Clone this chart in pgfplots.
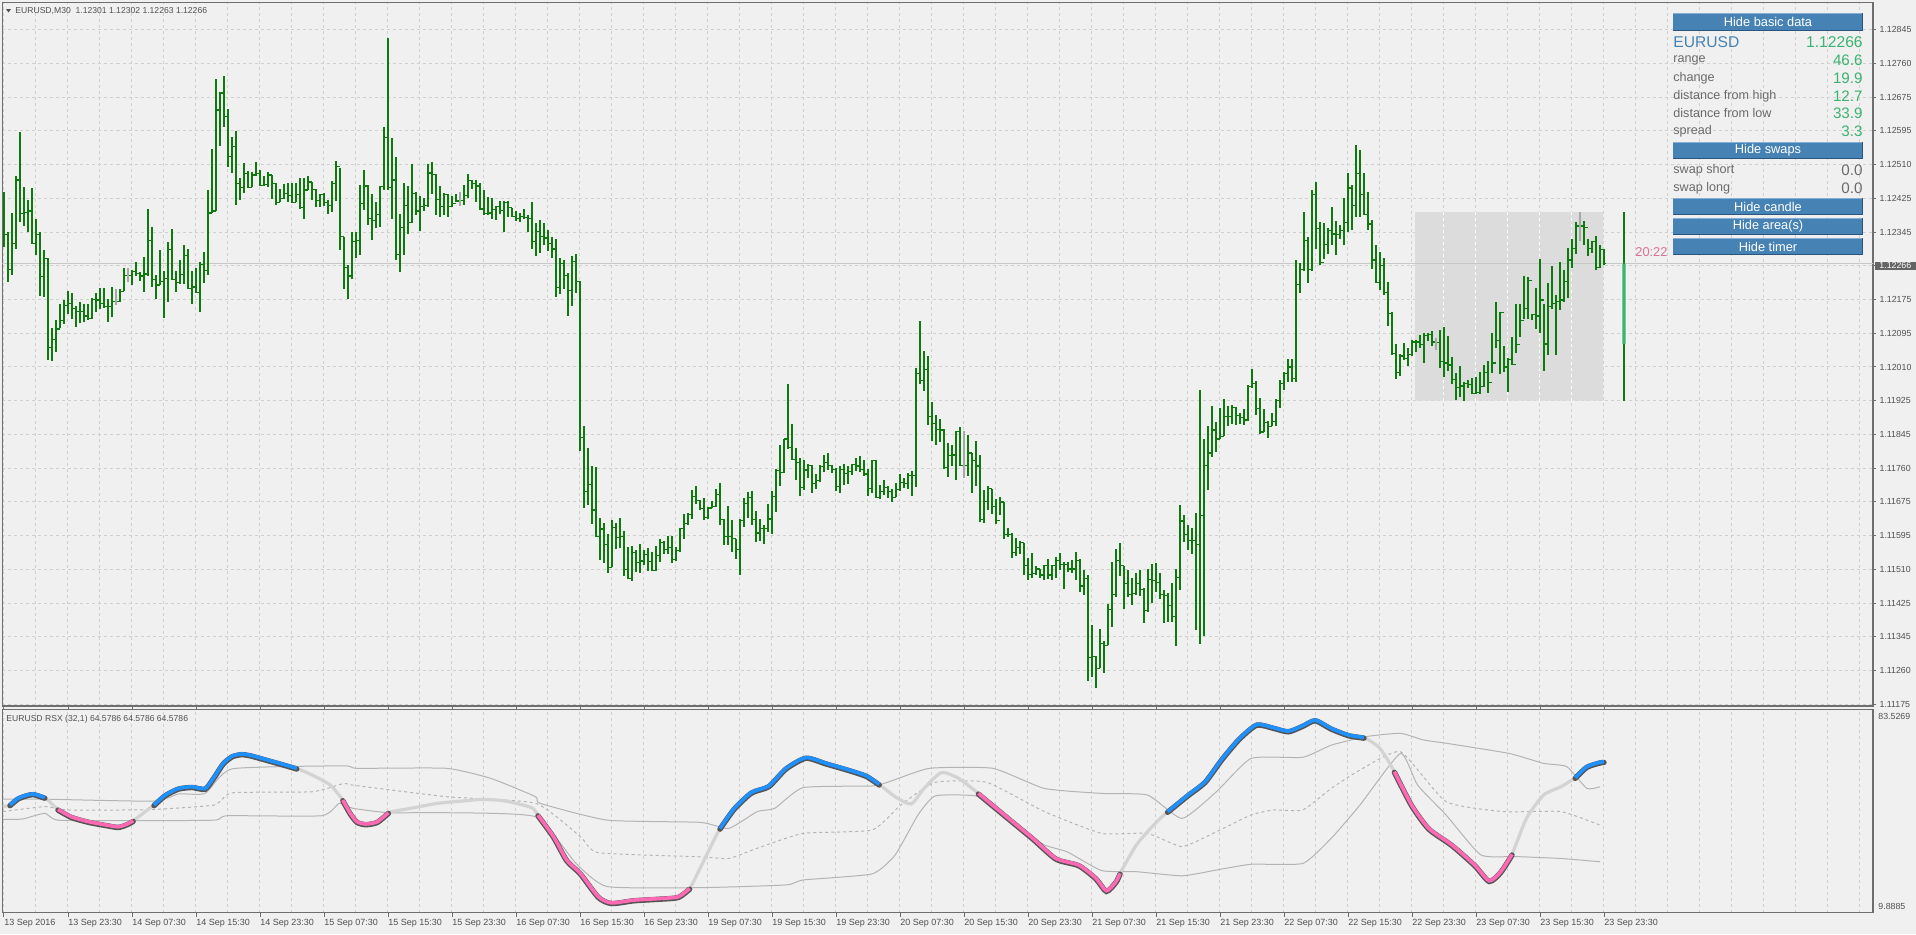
\documentclass[border=0pt]{standalone}
\usepackage{pgfplots}
\usepackage{pgfplotstable}
\pgfplotsset{compat=1.18}
\usepackage{fontspec}
\setmainfont{Liberation Sans}
\definecolor{bg}{HTML}{F0F0F0}
\definecolor{gridc}{HTML}{D0D0D0}
\definecolor{frame}{HTML}{6E6E6E}
\definecolor{barc}{HTML}{0E7A0E}
\definecolor{dojic}{HTML}{A8A8A8}
\definecolor{candle}{HTML}{3CB371}
\definecolor{area}{HTML}{DCDCDC}
\definecolor{pline}{HTML}{C8C8C8}
\definecolor{txt}{HTML}{505050}
\definecolor{lbl}{HTML}{6A6A6A}
\definecolor{val}{HTML}{3CB371}
\definecolor{btn}{HTML}{4682B4}
\definecolor{btnhi}{HTML}{86AED6}
\definecolor{btnlo}{HTML}{2A557F}
\definecolor{rsxblue}{HTML}{1E90FF}
\definecolor{rsxpink}{HTML}{FF69B4}
\definecolor{rsxgrey}{HTML}{D3D3D3}
\definecolor{rsxdark}{HTML}{555555}
\definecolor{band}{HTML}{B4B4B4}
\definecolor{timer}{HTML}{DB7093}
\definecolor{pbox}{HTML}{646464}
\newcommand\fs[1]{\fontsize{#1}{#1}\selectfont}

\pgfplotstableread{
i h l c
0 1.12444 1.12308 1.12337
1 1.12343 1.12221 1.12251
2 1.12391 1.12237 1.12316
3 1.12482 1.12303 1.12473
4 1.12592 1.12369 1.12389
5 1.12455 1.12359 1.12393
6 1.12423 1.12343 1.12396
7 1.12453 1.12315 1.12316
8 1.12377 1.12286 1.12337
9 1.12343 1.12186 1.12233
10 1.12300 1.12183 1.12278
11 1.12280 1.12028 1.12058
12 1.12106 1.12026 1.12079
13 1.12126 1.12047 1.12104
14 1.12165 1.12106 1.12125
15 1.12176 1.12117 1.12162
16 1.12197 1.12141 1.12168
17 1.12194 1.12128 1.12154
18 1.12160 1.12110 1.12147
19 1.12170 1.12120 1.12147
20 1.12165 1.12122 1.12136
21 1.12165 1.12128 1.12130
22 1.12181 1.12130 1.12178
23 1.12194 1.12146 1.12176
24 1.12205 1.12154 1.12168
25 1.12205 1.12156 1.12160
26 1.12178 1.12122 1.12160
27 1.12208 1.12133 1.12172
28 1.12203 1.12163 1.12172
29 1.12203 1.12170 1.12197
30 1.12254 1.12197 1.12237
31 1.12256 1.12221 1.12237
32 1.12251 1.12213 1.12246
33 1.12269 1.12235 1.12242
34 1.12246 1.12224 1.12235
35 1.12282 1.12195 1.12240
36 1.12400 1.12235 1.12323
37 1.12356 1.12208 1.12226
38 1.12237 1.12179 1.12213
39 1.12300 1.12213 1.12222
40 1.12248 1.12131 1.12229
41 1.12319 1.12172 1.12300
42 1.12351 1.12226 1.12226
43 1.12248 1.12195 1.12220
44 1.12275 1.12216 1.12238
45 1.12311 1.12216 1.12286
46 1.12303 1.12203 1.12205
47 1.12248 1.12165 1.12208
48 1.12256 1.12192 1.12195
49 1.12269 1.12147 1.12264
50 1.12294 1.12219 1.12248
51 1.12448 1.12237 1.12391
52 1.12550 1.12391 1.12396
53 1.12722 1.12396 1.12646
54 1.12691 1.12557 1.12688
55 1.12731 1.12605 1.12630
56 1.12648 1.12505 1.12530
57 1.12580 1.12489 1.12555
58 1.12594 1.12410 1.12464
59 1.12478 1.12423 1.12455
60 1.12514 1.12441 1.12489
61 1.12495 1.12452 1.12455
62 1.12493 1.12455 1.12485
63 1.12517 1.12482 1.12489
64 1.12498 1.12457 1.12460
65 1.12482 1.12457 1.12462
66 1.12493 1.12455 1.12485
67 1.12485 1.12426 1.12464
68 1.12465 1.12412 1.12418
69 1.12450 1.12418 1.12426
70 1.12462 1.12425 1.12439
71 1.12466 1.12418 1.12434
72 1.12466 1.12415 1.12418
73 1.12466 1.12418 1.12436
74 1.12477 1.12401 1.12404
75 1.12477 1.12377 1.12448
76 1.12482 1.12448 1.12468
77 1.12469 1.12423 1.12450
78 1.12450 1.12407 1.12423
79 1.12439 1.12407 1.12437
80 1.12441 1.12409 1.12418
81 1.12423 1.12389 1.12409
82 1.12471 1.12394 1.12464
83 1.12521 1.12422 1.12506
84 1.12503 1.12300 1.12332
85 1.12332 1.12203 1.12257
86 1.12262 1.12179 1.12235
87 1.12343 1.12229 1.12321
88 1.12345 1.12280 1.12324
89 1.12460 1.12287 1.12415
90 1.12497 1.12399 1.12458
91 1.12460 1.12361 1.12378
92 1.12439 1.12324 1.12372
93 1.12418 1.12355 1.12387
94 1.12457 1.12356 1.12457
95 1.12603 1.12447 1.12577
96 1.12825 1.12448 1.12455
97 1.12576 1.12377 1.12473
98 1.12530 1.12276 1.12289
99 1.12389 1.12244 1.12355
100 1.12465 1.12286 1.12409
101 1.12457 1.12340 1.12367
102 1.12512 1.12367 1.12439
103 1.12444 1.12385 1.12396
104 1.12434 1.12346 1.12407
105 1.12428 1.12396 1.12409
106 1.12512 1.12407 1.12490
107 1.12517 1.12439 1.12487
108 1.12487 1.12385 1.12425
109 1.12457 1.12380 1.12407
110 1.12441 1.12385 1.12437
111 1.12437 1.12382 1.12407
112 1.12434 1.12407 1.12415
113 1.12439 1.12418 1.12421
114 1.12444 1.12409 1.12423
115 1.12460 1.12412 1.12434
116 1.12487 1.12428 1.12471
117 1.12473 1.12450 1.12464
118 1.12473 1.12418 1.12458
119 1.12466 1.12399 1.12401
120 1.12447 1.12385 1.12389
121 1.12431 1.12385 1.12391
122 1.12428 1.12377 1.12399
123 1.12409 1.12375 1.12407
124 1.12420 1.12389 1.12398
125 1.12420 1.12345 1.12418
126 1.12420 1.12380 1.12404
127 1.12404 1.12382 1.12383
128 1.12396 1.12371 1.12377
129 1.12392 1.12369 1.12382
130 1.12400 1.12375 1.12380
131 1.12385 1.12343 1.12377
132 1.12418 1.12303 1.12321
133 1.12367 1.12284 1.12345
134 1.12375 1.12292 1.12332
135 1.12366 1.12313 1.12329
136 1.12350 1.12298 1.12316
137 1.12332 1.12280 1.12302
138 1.12327 1.12183 1.12206
139 1.12280 1.12190 1.12267
140 1.12275 1.12203 1.12237
141 1.12242 1.12136 1.12200
142 1.12284 1.12162 1.12271
143 1.12289 1.12192 1.12221
144 1.12222 1.11803 1.11835
145 1.11864 1.11661 1.11701
146 1.11809 1.11669 1.11720
147 1.11766 1.11621 1.11656
148 1.11763 1.11589 1.11591
149 1.11636 1.11532 1.11609
150 1.11625 1.11526 1.11571
151 1.11596 1.11500 1.11514
152 1.11631 1.11514 1.11612
153 1.11625 1.11559 1.11588
154 1.11637 1.11561 1.11591
155 1.11604 1.11493 1.11508
156 1.11564 1.11486 1.11487
157 1.11567 1.11481 1.11551
158 1.11556 1.11503 1.11527
159 1.11572 1.11500 1.11530
160 1.11556 1.11521 1.11546
161 1.11561 1.11505 1.11529
162 1.11553 1.11505 1.11507
163 1.11567 1.11505 1.11543
164 1.11585 1.11527 1.11575
165 1.11580 1.11546 1.11559
166 1.11591 1.11548 1.11564
167 1.11591 1.11525 1.11534
168 1.11564 1.11529 1.11556
169 1.11612 1.11553 1.11610
170 1.11645 1.11585 1.11623
171 1.11648 1.11618 1.11645
172 1.11706 1.11634 1.11690
173 1.11715 1.11672 1.11679
174 1.11680 1.11656 1.11659
175 1.11686 1.11631 1.11637
176 1.11664 1.11634 1.11661
177 1.11679 1.11661 1.11664
178 1.11709 1.11664 1.11695
179 1.11722 1.11618 1.11632
180 1.11634 1.11570 1.11591
181 1.11666 1.11570 1.11591
182 1.11631 1.11553 1.11585
183 1.11585 1.11534 1.11559
184 1.11634 1.11495 1.11631
185 1.11686 1.11615 1.11672
186 1.11701 1.11637 1.11688
187 1.11704 1.11620 1.11632
188 1.11653 1.11578 1.11599
189 1.11634 1.11580 1.11610
190 1.11620 1.11571 1.11610
191 1.11670 1.11602 1.11634
192 1.11704 1.11596 1.11690
193 1.11757 1.11650 1.11754
194 1.11818 1.11715 1.11749
195 1.11832 1.11747 1.11832
196 1.11969 1.11806 1.11811
197 1.11870 1.11781 1.11782
198 1.11809 1.11731 1.11774
199 1.11784 1.11691 1.11711
200 1.11781 1.11706 1.11755
201 1.11771 1.11736 1.11766
202 1.11768 1.11698 1.11722
203 1.11745 1.11709 1.11729
204 1.11768 1.11725 1.11763
205 1.11792 1.11750 1.11774
206 1.11798 1.11754 1.11766
207 1.11768 1.11747 1.11757
208 1.11760 1.11704 1.11715
209 1.11766 1.11698 1.11757
210 1.11770 1.11718 1.11747
211 1.11766 1.11720 1.11752
212 1.11770 1.11743 1.11768
213 1.11784 1.11752 1.11765
214 1.11790 1.11750 1.11757
215 1.11779 1.11741 1.11745
216 1.11757 1.11690 1.11709
217 1.11779 1.11698 1.11779
218 1.11779 1.11686 1.11688
219 1.11718 1.11683 1.11701
220 1.11731 1.11693 1.11711
221 1.11715 1.11685 1.11701
222 1.11707 1.11676 1.11688
223 1.11722 1.11688 1.11706
224 1.11745 1.11704 1.11725
225 1.11736 1.11711 1.11722
226 1.11747 1.11709 1.11741
227 1.11752 1.11690 1.11741
228 1.12008 1.11712 1.11994
229 1.12125 1.11967 1.11977
230 1.12050 1.11951 1.12004
231 1.12037 1.11867 1.11888
232 1.11924 1.11827 1.11870
233 1.11892 1.11818 1.11856
234 1.11881 1.11824 1.11854
235 1.11856 1.11760 1.11761
236 1.11822 1.11738 1.11790
237 1.11816 1.11765 1.11792
238 1.11851 1.11731 1.11851
239 1.11862 1.11766 1.11766
240 1.11851 1.11736 1.11766
241 1.11841 1.11741 1.11797
242 1.11798 1.11698 1.11779
243 1.11827 1.11715 1.11765
244 1.11792 1.11626 1.11632
245 1.11706 1.11623 1.11677
246 1.11715 1.11656 1.11709
247 1.11709 1.11647 1.11664
248 1.11683 1.11621 1.11631
249 1.11688 1.11643 1.11676
250 1.11676 1.11585 1.11596
251 1.11612 1.11589 1.11596
252 1.11599 1.11537 1.11551
253 1.11588 1.11543 1.11564
254 1.11580 1.11548 1.11575
255 1.11575 1.11495 1.11519
256 1.11537 1.11484 1.11497
257 1.11550 1.11489 1.11498
258 1.11518 1.11495 1.11510
259 1.11510 1.11489 1.11495
260 1.11521 1.11484 1.11519
261 1.11535 1.11486 1.11495
262 1.11521 1.11482 1.11519
263 1.11541 1.11489 1.11532
264 1.11550 1.11507 1.11521
265 1.11527 1.11460 1.11521
266 1.11527 1.11503 1.11510
267 1.11532 1.11500 1.11510
268 1.11553 1.11484 1.11532
269 1.11534 1.11452 1.11468
270 1.11507 1.11446 1.11486
271 1.11495 1.11232 1.11291
272 1.11371 1.11243 1.11294
273 1.11294 1.11216 1.11264
274 1.11361 1.11264 1.11326
275 1.11332 1.11253 1.11321
276 1.11423 1.11321 1.11409
277 1.11527 1.11366 1.11446
278 1.11559 1.11441 1.11532
279 1.11575 1.11492 1.11518
280 1.11518 1.11411 1.11475
281 1.11508 1.11441 1.11446
282 1.11489 1.11422 1.11450
283 1.11500 1.11446 1.11475
284 1.11508 1.11443 1.11459
285 1.11462 1.11377 1.11407
286 1.11510 1.11404 1.11484
287 1.11523 1.11425 1.11481
288 1.11525 1.11452 1.11477
289 1.11500 1.11436 1.11446
290 1.11459 1.11377 1.11444
291 1.11450 1.11379 1.11420
292 1.11475 1.11379 1.11393
293 1.11510 1.11320 1.11489
294 1.11669 1.11459 1.11629
295 1.11643 1.11577 1.11596
296 1.11618 1.11557 1.11580
297 1.11612 1.11548 1.11580
298 1.11648 1.11358 1.11570
299 1.11953 1.11325 1.11643
300 1.11832 1.11344 1.11766
301 1.11864 1.11706 1.11797
302 1.11913 1.11787 1.11854
303 1.11873 1.11800 1.11832
304 1.11908 1.11832 1.11838
305 1.11931 1.11840 1.11888
306 1.11913 1.11864 1.11888
307 1.11916 1.11870 1.11910
308 1.11910 1.11867 1.11889
309 1.11895 1.11868 1.11886
310 1.11905 1.11867 1.11879
311 1.11965 1.11876 1.11961
312 1.12004 1.11959 1.11969
313 1.11975 1.11892 1.11908
314 1.11934 1.11843 1.11849
315 1.11905 1.11849 1.11872
316 1.11876 1.11835 1.11862
317 1.11897 1.11864 1.11876
318 1.11931 1.11864 1.11927
319 1.11977 1.11908 1.11969
320 1.11997 1.11953 1.11994
321 1.12031 1.11972 1.12010
322 1.12031 1.11972 1.11981
323 1.12275 1.11972 1.12215
324 1.12267 1.12192 1.12251
325 1.12393 1.12248 1.12323
326 1.12332 1.12219 1.12251
327 1.12447 1.12248 1.12436
328 1.12469 1.12302 1.12353
329 1.12368 1.12262 1.12269
330 1.12366 1.12278 1.12313
331 1.12355 1.12289 1.12348
332 1.12405 1.12313 1.12339
333 1.12372 1.12288 1.12337
334 1.12362 1.12327 1.12348
335 1.12428 1.12311 1.12367
336 1.12489 1.12343 1.12453
337 1.12460 1.12348 1.12410
338 1.12559 1.12380 1.12489
339 1.12546 1.12382 1.12437
340 1.12489 1.12387 1.12387
341 1.12442 1.12350 1.12364
342 1.12375 1.12253 1.12275
343 1.12311 1.12219 1.12219
344 1.12294 1.12200 1.12262
345 1.12280 1.12189 1.12194
346 1.12220 1.12112 1.12142
347 1.12147 1.12039 1.12044
348 1.12068 1.11981 1.11996
349 1.12042 1.11988 1.12037
350 1.12069 1.12029 1.12031
351 1.12058 1.12013 1.12040
352 1.12076 1.12037 1.12072
353 1.12078 1.12047 1.12072
354 1.12090 1.12058 1.12066
355 1.12093 1.12020 1.12088
356 1.12093 1.12074 1.12090
357 1.12098 1.12063 1.12072
358 1.12082 1.12051 1.12071
359 1.12101 1.12008 1.12024
360 1.12108 1.11986 1.12020
361 1.12087 1.12001 1.12015
362 1.12034 1.11967 1.11980
363 1.11994 1.11929 1.11959
364 1.12012 1.11936 1.11963
365 1.11972 1.11927 1.11969
366 1.11977 1.11958 1.11967
367 1.11983 1.11942 1.11945
368 1.11986 1.11943 1.11947
369 1.11997 1.11942 1.11961
370 1.12015 1.11961 1.11997
371 1.12024 1.11945 1.11972
372 1.12093 1.11994 1.12020
373 1.12170 1.12056 1.12076
374 1.12147 1.11992 1.12144
375 1.12063 1.11997 1.12010
376 1.12033 1.11947 1.12029
377 1.12085 1.12015 1.12017
378 1.12166 1.12044 1.12066
379 1.12165 1.12083 1.12125
380 1.12235 1.12128 1.12154
381 1.12232 1.12128 1.12224
382 1.12141 1.12126 1.12139
383 1.12205 1.12103 1.12136
384 1.12278 1.12095 1.12176
385 1.12165 1.12001 1.12067
386 1.12219 1.12039 1.12160
387 1.12260 1.12154 1.12168
388 1.12189 1.12039 1.12172
389 1.12269 1.12151 1.12176
390 1.12250 1.12170 1.12221
391 1.12305 1.12181 1.12275
392 1.12327 1.12254 1.12303
393 1.12369 1.12289 1.12359
394 1.12393 1.12321 1.12359
395 1.12371 1.12313 1.12355
396 1.12327 1.12284 1.12303
397 1.12323 1.12292 1.12321
398 1.12335 1.12251 1.12257
399 1.12313 1.12254 1.12300
400 1.12302 1.12263 1.12266
}\ohlc

\pgfplotstableread{
i h l c
28 1.12203 1.12163 1.12172
31 1.12256 1.12221 1.12237
114 1.12444 1.12409 1.12423
240 1.11851 1.11736 1.11766
358 1.12082 1.12051 1.12071
394 1.12393 1.12321 1.12359
}\doji

\pgfplotstableread{
i v
-0.3 48.3
1.5 48.9
3.5 51.3
5.7 52.5
7.4 52.9
10.2 51.6
11.8 49.5
13.5 47.3
16.9 44.6
21.3 42.8
25.8 41.6
28.6 41.0
30.8 42.0
32.3 43.2
34.7 45.8
37.5 48.9
40.3 52.5
43.6 54.9
47.0 55.5
50.3 54.9
52.6 59.2
54.8 64.0
57.0 66.6
59.3 67.4
61.5 67.0
66.0 65.2
70.4 63.4
73.2 62.2
77.1 59.7
81.6 56.1
84.4 51.3
84.7 50.7
86.6 45.8
88.3 42.8
90.5 42.0
93.3 42.8
96.1 46.1
101.7 47.7
108.4 49.5
115.1 50.4
119.5 50.9
125.1 50.4
131.8 48.0
133.5 45.2
137.4 37.4
140.7 28.9
144.1 24.1
148.6 15.6
151.9 13.4
157.5 14.4
164.2 15.0
168.6 15.6
171.4 18.6
174.0 25.9
179.0 40.4
182.6 47.7
186.9 53.5
191.2 55.8
195.5 62.2
200.5 66.1
205.6 64.0
211.3 61.6
215.6 59.5
218.8 56.4
222.8 51.9
226.8 49.3
230.0 54.9
234.3 60.6
238.6 58.6
243.6 53.1
250.1 45.3
257.2 36.8
263.0 29.5
268.7 27.1
273.0 22.3
275.6 17.8
278.0 21.1
279.0 24.1
283.1 34.4
287.4 41.6
290.9 46.5
296.0 52.5
300.3 57.4
304.6 65.8
308.9 73.1
313.2 78.1
317.5 76.9
321.1 75.7
324.7 77.7
327.8 79.7
331.8 76.7
336.1 74.3
340.0 73.4
344.0 69.4
347.6 61.0
351.9 48.9
356.2 40.4
362.0 34.4
367.7 27.1
371.3 21.4
374.2 24.7
377.0 31.0
380.6 44.0
384.9 52.5
389.2 55.5
392.8 58.8
395.7 62.8
399.0 64.4
400.0 64.58
}\tbrsx

\pgfplotstableread{
i v
-0.3 51.0
10.2 51.0
37.5 50.3
43.6 52.9
50.3 53.1
57.0 62.0
84.9 63.1
88.3 62.2
110.6 62.2
121.8 58.5
132.9 51.9
134.0 49.5
150.8 43.4
174.0 42.6
181.2 40.4
188.3 46.5
192.7 47.7
199.8 55.2
217.0 55.8
221.4 57.4
231.4 62.2
247.2 62.2
260.1 54.9
274.4 53.1
285.9 52.5
294.5 44.0
303.1 53.7
311.8 65.8
324.7 66.2
331.8 70.6
340.5 73.7
349.1 74.9
354.8 72.5
360.5 71.3
376.3 67.6
384.9 64.0
390.7 62.8
395.7 54.9
399.0 55.5
}\tbup

\pgfplotstableread{
i v
-0.3 43.7
4.6 43.8
10.2 45.9
13.5 43.4
32.5 43.2
52.6 43.4
55.9 45.0
79.4 45.0
83.8 49.5
87.2 47.7
96.1 46.1
110.6 46.1
132.9 44.6
143.0 27.7
150.8 19.3
174.0 18.9
195.5 19.9
199.8 21.7
217.0 23.9
222.8 30.8
228.5 45.3
232.8 52.2
242.9 52.2
248.6 47.7
254.4 40.4
260.1 34.4
265.8 31.9
274.4 25.1
283.1 24.7
294.5 23.2
303.1 25.3
311.8 27.4
324.7 27.7
331.8 36.8
339.0 48.9
349.1 67.6
353.4 56.1
360.5 45.3
369.2 30.8
377.8 30.2
389.2 29.5
399.0 28.3
}\tbdn

\pgfplotstableread{
i v
-0.3 46.5
10.2 48.3
15.7 47.1
32.5 47.1
38.1 47.3
52.6 48.9
57.0 53.3
77.1 53.7
84.9 56.7
87.2 56.1
110.6 51.9
132.9 49.5
144.1 37.4
148.6 31.6
174.0 30.1
181.2 29.5
188.3 33.2
199.8 38.6
217.0 39.8
224.2 48.9
232.8 57.1
245.7 57.1
260.1 46.5
274.4 38.6
285.9 38.6
294.5 33.8
303.1 39.2
311.8 45.3
317.5 47.1
324.7 47.1
331.8 54.9
339.0 61.6
349.1 68.2
360.5 50.1
374.9 46.5
389.2 46.5
399.0 41.6
}\tbmid

\newcommand\seg[3]{%
\addplot[rsxdark, line width=2.7pt, yshift=-0.35pt, smooth, tension=0.4, line cap=round, restrict x to domain=#1:#2, forget plot] table[x=i,y=v]{\tbrsx};
\addplot[#3, line width=1.8pt, smooth, tension=0.4, restrict x to domain=#1:#2, forget plot] table[x=i,y=v]{\tbrsx};}

\newcommand\btn[3]{%
\fill[btn] (1673,#1) rectangle (1863,#2);
\draw[btnhi, line width=0.6pt] (1673,#1+0.6) -- (1863,#1+0.6);
\draw[btnlo, line width=0.6pt] (1673,#2-0.6) -- (1863,#2-0.6) (1862.4,#1) -- (1862.4,#2);
\node[text=white, font=\fs{6.4}, inner sep=0pt] at (1768,{(#1+#2)/2}) {#3};}

\begin{document}
\begin{tikzpicture}[x=0.5pt, y=-0.5pt]
\useasboundingbox (0,0) rectangle (1916,934);
\fill[bg] (0,0) rectangle (1916,934);

% ---------- price panel ----------
\begin{axis}[
  at={(1.25pt,-353pt)}, anchor=south west,
  scale only axis, width=935.25pt, height=351.75pt,
  xmin=-0.375, xmax=467.25, ymin=1.11171, ymax=1.12912,
  axis line style={draw=frame, line width=0.6pt},
  axis background/.style={fill=bg},
  xtick={-0.2,7.8,...,463.8}, xticklabels={}, xtick style={draw=none},
  ytick={1.11175,1.112585,1.11342,1.114255,1.11509,1.115925,1.11676,1.117595,1.11843,1.119265,1.1201,1.120935,1.12177,1.122605,1.12344,1.124275,1.12511,1.125945,1.12678,1.127615,1.12845},
  yticklabels={1.11175,1.11260,1.11345,1.11425,1.11510,1.11595,1.11675,1.11760,1.11845,1.11925,1.12010,1.12095,1.12175,,1.12345,1.12425,1.12510,1.12595,1.12675,1.12760,1.12845},
  ytick pos=right, yticklabel pos=right, tick align=outside,
  major tick length=1.6pt,
  ytick style={draw=frame, line width=0.5pt},
  yticklabel style={font=\fs{4.4}, text=txt, anchor=west, inner sep=0pt, xshift=1.5pt},
  grid=major,
  major grid style={gridc, dash pattern=on 1.5pt off 1.5pt, line width=0.5pt},
]
\addplot[fill=area, draw=none, forget plot] coordinates {(352.75,1.11927) (399.75,1.11927) (399.75,1.12393) (352.75,1.12393) (352.75,1.11927)};
\addplot[white, dash pattern=on 1.5pt off 1.5pt, line width=0.5pt, forget plot] coordinates {(359.8,1.11927) (359.8,1.12393)};
\addplot[white, dash pattern=on 1.5pt off 1.5pt, line width=0.5pt, forget plot] coordinates {(367.8,1.11927) (367.8,1.12393)};
\addplot[white, dash pattern=on 1.5pt off 1.5pt, line width=0.5pt, forget plot] coordinates {(375.8,1.11927) (375.8,1.12393)};
\addplot[white, dash pattern=on 1.5pt off 1.5pt, line width=0.5pt, forget plot] coordinates {(383.8,1.11927) (383.8,1.12393)};
\addplot[white, dash pattern=on 1.5pt off 1.5pt, line width=0.5pt, forget plot] coordinates {(391.8,1.11927) (391.8,1.12393)};
\addplot[pline, line width=0.5pt, forget plot] coordinates {(-1,1.12266) (470,1.12266)};
\addplot[draw=none, mark=none, forget plot,
  error bars/.cd, y dir=both, y explicit, x dir=plus, x fixed=0.45,
  error bar style={draw=barc, solid, line width=0.6pt}, error mark=none]
  table[x=i, y=c, y error plus expr=\thisrow{h}-\thisrow{c}, y error minus expr=\thisrow{c}-\thisrow{l}] {\ohlc};
\addplot[draw=none, mark=none, forget plot, restrict x to domain=0:400,
  error bars/.cd, x dir=minus, x fixed=0.45,
  error bar style={draw=barc, solid, line width=0.6pt}, error mark=none]
  table[x expr=\thisrow{i}+1, y=c] {\ohlc};
\addplot[draw=none, mark=none, forget plot,
  error bars/.cd, y dir=both, y explicit, error bar style={draw=dojic, solid, line width=0.7pt}, error mark=none]
  table[x=i, y=c, y error plus expr=\thisrow{h}-\thisrow{c}, y error minus expr=\thisrow{c}-\thisrow{l}] {\doji};
\addplot[draw=none, mark=none, forget plot,
  error bars/.cd, y dir=plus, y explicit, error bar style={draw=barc, solid, line width=0.6pt}, error mark=none]
  coordinates {(405,1.11927) +- (0,0.00466)};
\addplot[fill=candle, draw=none, mark=none, forget plot] coordinates {(404.6,1.12067) (405.4,1.12067) (405.4,1.12266) (404.6,1.12266) (404.6,1.12067)};
\end{axis}

% ---------- RSX panel ----------
\begin{axis}[
  at={(1.25pt,-456.25pt)}, anchor=south west,
  scale only axis, width=935.25pt, height=101.5pt,
  xmin=-0.375, xmax=467.25, ymin=9.8885, ymax=83.5269,
  axis line style={draw=frame, line width=0.6pt},
  axis background/.style={fill=bg},
  xtick={-0.2,7.8,...,463.8}, xticklabels={}, xtick style={draw=none},
  ytick=\empty,
  xmajorgrids,
  major grid style={gridc, dash pattern=on 1.5pt off 1.5pt, line width=0.5pt},
  extra x ticks={0,16,...,400},
  extra x tick labels={13 Sep 2016,13 Sep 23:30,14 Sep 07:30,14 Sep 15:30,14 Sep 23:30,15 Sep 07:30,15 Sep 15:30,15 Sep 23:30,16 Sep 07:30,16 Sep 15:30,16 Sep 23:30,19 Sep 07:30,19 Sep 15:30,19 Sep 23:30,20 Sep 07:30,20 Sep 15:30,20 Sep 23:30,21 Sep 07:30,21 Sep 15:30,21 Sep 23:30,22 Sep 07:30,22 Sep 15:30,22 Sep 23:30,23 Sep 07:30,23 Sep 15:30,23 Sep 23:30},
  extra x tick style={grid=none, tick align=outside, major tick length=2pt, xtick style={draw=frame, line width=0.5pt}},
  xticklabel style={font=\fs{4.5}, text=txt, anchor=north west, inner sep=0pt, yshift=-1pt},
]
\addplot[band, line width=0.5pt, mark=none, smooth, tension=0.3, forget plot] table[x=i,y=v]{\tbup};
\addplot[band, line width=0.5pt, mark=none, smooth, tension=0.3, forget plot] table[x=i,y=v]{\tbdn};
\addplot[band, line width=0.5pt, mark=none, smooth, tension=0.3, dash pattern=on 1.5pt off 1.5pt, forget plot] table[x=i,y=v]{\tbmid};
\addplot[rsxgrey, line width=1.6pt, mark=none, smooth, tension=0.4, forget plot] table[x=i,y=v]{\tbrsx};
\seg{1.4}{10.3}{rsxblue}
\seg{13.4}{32.4}{rsxpink}
\seg{37.4}{73.3}{rsxblue}
\seg{84.6}{96.2}{rsxpink}
\seg{133.4}{171.5}{rsxpink}
\seg{178.9}{218.9}{rsxblue}
\seg{243.5}{279.1}{rsxpink}
\seg{290.8}{340.1}{rsxblue}
\seg{347.5}{377.1}{rsxpink}
\seg{392.7}{400.1}{rsxblue}
\end{axis}

% ---------- texts ----------
\fill[txt] (6,9) -- (11,9) -- (8.5,12.5) -- cycle;
\node[anchor=west, font=\fs{4.3}, text=txt, inner sep=0pt] at (15,11) {EURUSD,M30\ \ 1.12301 1.12302 1.12263 1.12266};
\node[anchor=west, font=\fs{4.3}, text=txt, inner sep=0pt] at (6,719) {EURUSD RSX (32,1) 64.5786 64.5786 64.5786};
\node[anchor=west, font=\fs{4.4}, text=txt, inner sep=0pt] at (1878,716) {83.5269};
\node[anchor=west, font=\fs{4.4}, text=txt, inner sep=0pt] at (1878,906.5) {9.8885};
\fill[pbox] (1875,261.5) rectangle (1916,269.5);
\node[anchor=west, font=\fs{4.4}, text=white, inner sep=0pt] at (1879,265.5) {1.12266};
\node[anchor=west, font=\fs{6.4}, text=timer, inner sep=0pt] at (1635,252) {20:22};

\btn{13}{31}{Hide basic data}
\node[anchor=west, font=\fs{7.8}, text=btn, inner sep=0pt] at (1673,42) {EURUSD};
\node[anchor=east, font=\fs{7.8}, text=val, inner sep=0pt] at (1863,42) {1.12266};
\node[anchor=west, font=\fs{6.3}, text=lbl, inner sep=0pt] at (1673,60) {range};
\node[anchor=east, font=\fs{7.6}, text=val, inner sep=0pt] at (1863,60) {46.6};
\node[anchor=west, font=\fs{6.3}, text=lbl, inner sep=0pt] at (1673,78) {change};
\node[anchor=east, font=\fs{7.6}, text=val, inner sep=0pt] at (1863,78) {19.9};
\node[anchor=west, font=\fs{6.3}, text=lbl, inner sep=0pt] at (1673,96) {distance from high};
\node[anchor=east, font=\fs{7.6}, text=val, inner sep=0pt] at (1863,96) {12.7};
\node[anchor=west, font=\fs{6.3}, text=lbl, inner sep=0pt] at (1673,113) {distance from low};
\node[anchor=east, font=\fs{7.6}, text=val, inner sep=0pt] at (1863,113) {33.9};
\node[anchor=west, font=\fs{6.3}, text=lbl, inner sep=0pt] at (1673,131) {spread};
\node[anchor=east, font=\fs{7.6}, text=val, inner sep=0pt] at (1863,131) {3.3};
\btn{142}{159}{Hide swaps}
\node[anchor=west, font=\fs{6.3}, text=lbl, inner sep=0pt] at (1673,170) {swap short};
\node[anchor=east, font=\fs{7.6}, text=lbl, inner sep=0pt] at (1863,170) {0.0};
\node[anchor=west, font=\fs{6.3}, text=lbl, inner sep=0pt] at (1673,188) {swap long};
\node[anchor=east, font=\fs{7.6}, text=lbl, inner sep=0pt] at (1863,188) {0.0};
\btn{198}{215}{Hide candle}
\btn{218}{235}{Hide area(s)}
\btn{238}{255}{Hide timer}
\end{tikzpicture}
\end{document}
